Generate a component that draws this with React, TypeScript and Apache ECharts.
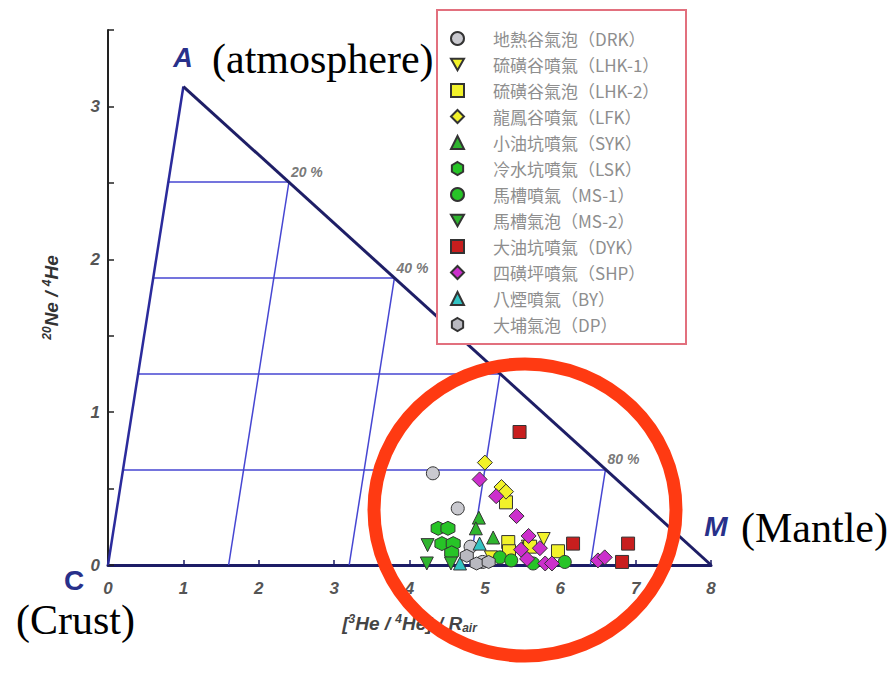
import React, { useEffect, useRef } from 'react';
import * as echarts from 'echarts';

// Ternary-like mixing triangle apexes (x = [3He/4He]/Rair, y = 20Ne/4He)
const apexA: [number, number] = [1, 3.13];
const apexC: [number, number] = [0, 0];
const apexM: [number, number] = [8, 0];
const mixFractions = [0.2, 0.4, 0.6, 0.8];
const mixLabels = ['20 %', '40 %', '60 %', '80 %'];

const seriesNames = [
  '地熱谷氣泡（DRK）',
  '硫磺谷噴氣（LHK-1）',
  '硫磺谷氣泡（LHK-2）',
  '龍鳳谷噴氣（LFK）',
  '小油坑噴氣（SYK）',
  '冷水坑噴氣（LSK）',
  '馬槽噴氣（MS-1）',
  '馬槽氣泡（MS-2）',
  '大油坑噴氣（DYK）',
  '四磺坪噴氣（SHP）',
  '八煙噴氣（BY）',
  '大埔氣泡（DP）',
];

const drk = [[4.31, 0.6], [4.64, 0.37], [4.81, 0.12], [4.97, 0.02]];
const lhk1 = [[5.78, 0.17], [5.57, 0.12], [5.08, 0.05]];
const lhk2 = [[5.28, 0.41], [5.31, 0.15], [5.32, 0.09], [5.6, 0.12], [5.97, 0.09]];
const lfk = [[5.0, 0.67], [5.22, 0.51], [5.28, 0.48]];
const syk = [[4.92, 0.31], [4.88, 0.24], [5.11, 0.18]];
const lsk = [[4.38, 0.24], [4.51, 0.24], [4.43, 0.14], [4.58, 0.14], [4.56, 0.08]];
const ms1 = [[5.2, 0.05], [5.64, 0.01], [6.06, 0.02], [5.35, 0.03]];
const ms2 = [[4.24, 0.13], [4.23, 0.01], [4.55, 0.01]];
const dyk = [[5.46, 0.87], [6.17, 0.14], [6.9, 0.14], [6.82, 0.02]];
const shp = [
  [4.93, 0.56], [5.15, 0.45], [5.42, 0.32], [5.58, 0.19], [5.48, 0.1], [5.56, 0.04],
  [5.73, 0.11], [5.8, 0.01], [5.89, 0.01], [6.5, 0.03], [6.59, 0.05],
];
const by = [[4.93, 0.14], [4.67, 0.01]];
const dp = [[4.76, 0.06], [4.89, 0.01], [5.05, 0.02]];

const DOWN_TRI = 'path://M0,0L10,0L5,8.66Z';
const HEXAGON = 'path://M5,0L9.33,2.5L9.33,7.5L5,10L0.67,7.5L0.67,2.5Z';

const seriesData = [drk, lhk1, lhk2, lfk, syk, lsk, ms1, ms2, dyk, shp, by, dp];
const seriesSymbols = ['circle', DOWN_TRI, 'rect', 'diamond', 'triangle', HEXAGON, 'circle', DOWN_TRI, 'rect', 'diamond', 'triangle', HEXAGON];
const seriesColors = ['#c9c9cf', '#f2f22a', '#f2f22a', '#f2f22a', '#2fb52f', '#27c427', '#27c427', '#2fb52f', '#c81e1e', '#cc2fcc', '#33c4c4', '#b9b9c0'];
const seriesSizes = [13, 13, 13, 15, 13, 14, 13, 13, 13, 15, 13, 13];

const lerp = (p: [number, number], q: [number, number], t: number): [number, number] => [
  p[0] + (q[0] - p[0]) * t,
  p[1] + (q[1] - p[1]) * t,
];

const SANS = 'Arial, "Liberation Sans", sans-serif';
const SERIF = '"Liberation Serif", "Times New Roman", serif';

export default function App() {
  const ref = useRef<HTMLDivElement>(null);

  useEffect(() => {
    if (!ref.current) return;
    const chart = echarts.init(ref.current, undefined, { renderer: 'svg' });

    const gridSegs: any[] = [];
    mixFractions.forEach((f) => {
      const onAM = lerp(apexA, apexM, f);
      const onCA = [onAM[1] / apexA[1] * apexA[0], onAM[1]];
      gridSegs.push({ coords: [onCA, onAM] });
      const onCM = lerp(apexC, apexM, f);
      gridSegs.push({ coords: [onCM, onAM] });
    });

    const scatterSeries = seriesNames.map((name, i) => ({
      name,
      type: 'scatter',
      data: seriesData[i],
      symbol: seriesSymbols[i],
      symbolSize: seriesSizes[i],
      itemStyle: { color: seriesColors[i], borderColor: '#333', borderWidth: 1, opacity: 1 },
      z: 5,
    }));

    const supStyle = { fontSize: 12, verticalAlign: 'top', color: '#444', fontStyle: 'italic', fontWeight: 'bold', fontFamily: SANS, padding: [0, 0, 9, 0] };

    const option: any = {
      animation: false,
      backgroundColor: '#ffffff',
      grid: { left: 108, right: 185, top: 30, bottom: 109, containLabel: false },
      xAxis: {
        type: 'value',
        min: 0,
        max: 8,
        interval: 1,
        splitLine: { show: false },
        axisLine: { show: true, onZero: false, lineStyle: { color: '#1c1c66', width: 3 } },
        axisTick: { show: true, inside: true, length: 5, lineStyle: { color: '#1c1c66', width: 1.5 } },
        axisLabel: { margin: 15, color: '#555', fontSize: 17, fontStyle: 'italic', fontWeight: 'bold', fontFamily: SANS },
        name: '[{sup|3}He / {sup|4}He] / R{sub|air}',
        nameLocation: 'middle',
        nameGap: 48,
        nameTextStyle: {
          color: '#444', fontSize: 19, fontStyle: 'italic', fontWeight: 'bold', fontFamily: SANS,
          rich: {
            sup: supStyle,
            sub: { ...supStyle, verticalAlign: 'bottom', padding: [9, 0, 0, 0] },
          },
        },
      },
      yAxis: {
        type: 'value',
        min: 0,
        max: 3.5,
        interval: 0.5,
        splitLine: { show: false },
        axisLine: { show: true, onZero: false, lineStyle: { color: '#222', width: 2 } },
        axisTick: { show: true, inside: true, length: 6, lineStyle: { color: '#222', width: 1.5 } },
        axisLabel: {
          margin: 8, color: '#555', fontSize: 17, fontStyle: 'italic', fontWeight: 'bold', fontFamily: SANS,
          formatter: (v: number) => (Math.abs(v - Math.round(v)) < 1e-9 && v < 3.5 ? String(Math.round(v)) : ''),
        },
        name: '{sup|20}Ne / {sup|4}He',
        nameLocation: 'middle',
        nameRotate: 90,
        nameGap: 46,
        nameTextStyle: {
          color: '#333', fontSize: 19, fontStyle: 'italic', fontWeight: 'bold', fontFamily: SANS,
          rich: { sup: { ...supStyle, color: '#333' } },
        },
      },
      legend: {
        orient: 'vertical',
        left: 450,
        top: 30,
        padding: 0,
        itemWidth: 13,
        itemHeight: 13,
        itemGap: 9,
        data: seriesNames,
        z: 12,
        textStyle: {
          color: '#8e8e8e',
          fontSize: 17,
          fontFamily: '"Noto Sans CJK TC", "Noto Sans CJK SC", sans-serif',
          rich: { p: { width: 24 } },
        },
        formatter: (n: string) => '{p| }' + n,
      },
      series: [
        {
          name: 'gridlines',
          type: 'lines',
          coordinateSystem: 'cartesian2d',
          polyline: false,
          silent: true,
          data: gridSegs,
          lineStyle: { color: '#4646d2', width: 1.5, opacity: 1 },
          z: 2,
        },
        {
          name: 'edgeCA',
          type: 'lines',
          coordinateSystem: 'cartesian2d',
          silent: true,
          data: [{ coords: [apexC, apexA] }],
          lineStyle: { color: '#2b2b9c', width: 2.5, opacity: 1 },
          z: 3,
        },
        {
          name: 'edgeAM',
          type: 'lines',
          coordinateSystem: 'cartesian2d',
          silent: true,
          data: [{ coords: [apexA, apexM] }],
          lineStyle: { color: '#1e1e66', width: 3, opacity: 1 },
          z: 3,
        },
        {
          name: 'mixLabels',
          type: 'scatter',
          silent: true,
          symbolSize: 0,
          data: mixFractions.map((f, i) => ({ value: lerp(apexA, apexM, f), name: mixLabels[i] })),
          label: {
            show: true,
            position: 'right',
            distance: 2,
            offset: [0, -10],
            formatter: (p: any) => p.name,
            color: '#555',
            fontSize: 14,
            fontStyle: 'italic',
            fontWeight: 'bold',
            fontFamily: SANS,
          },
          z: 4,
        },
        ...scatterSeries,
      ],
      graphic: [
        {
          type: 'rect',
          z: 10,
          shape: { x: 437, y: 10, width: 249, height: 334 },
          style: { fill: '#ffffff', stroke: '#e2707e', lineWidth: 2 },
        },
        {
          type: 'text', z: 11, x: 183, y: 58,
          style: { text: 'A', fill: '#28308a', font: `italic bold 27px ${SANS}`, textAlign: 'center', textVerticalAlign: 'middle' },
        },
        {
          type: 'text', z: 11, x: 212, y: 59,
          style: { text: '(atmosphere)', fill: '#000', font: `42px ${SERIF}`, textAlign: 'left', textVerticalAlign: 'middle' },
        },
        {
          type: 'text', z: 11, x: 716, y: 526,
          style: { text: 'M', fill: '#28308a', font: `italic bold 28px ${SANS}`, textAlign: 'center', textVerticalAlign: 'middle' },
        },
        {
          type: 'text', z: 11, x: 741, y: 528,
          style: { text: '(Mantle)', fill: '#000', font: `42px ${SERIF}`, textAlign: 'left', textVerticalAlign: 'middle' },
        },
        {
          type: 'text', z: 11, x: 74, y: 580,
          style: { text: 'C', fill: '#28308a', font: `bold 28px ${SANS}`, textAlign: 'center', textVerticalAlign: 'middle' },
        },
        {
          type: 'text', z: 11, x: 16, y: 620,
          style: { text: '(Crust)', fill: '#000', font: `42px ${SERIF}`, textAlign: 'left', textVerticalAlign: 'middle' },
        },
        {
          type: 'ellipse',
          z: 30,
          shape: { cx: 525, cy: 510, rx: 151, ry: 146 },
          style: { fill: 'none', stroke: '#ff3a12', lineWidth: 13 },
        },
      ],
    };

    chart.setOption(option);
    return () => chart.dispose();
  }, []);

  return (
    <div
      ref={ref}
      style={{ position: 'fixed', left: 0, top: 0, width: 896, height: 674, background: '#fff' }}
    />
  );
}
